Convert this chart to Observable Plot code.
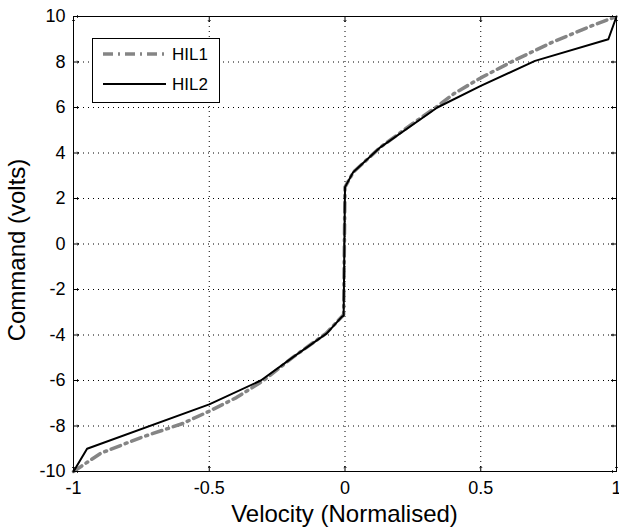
<!DOCTYPE html>
<html>
<head>
<meta charset="utf-8">
<script src="https://cdn.jsdelivr.net/npm/d3@7"></script>
<script src="https://cdn.jsdelivr.net/npm/@observablehq/plot@0.6"></script>
<style>
  html, body { margin: 0; padding: 0; background: #fff; overflow: hidden; }
  #chart svg { display: block; }
</style>
</head>
<body>
<div id="chart"></div>
<script>
// ---- data ----
const seriesNames = ["HIL1", "HIL2"];
const hil1X = [-1, -0.9, -0.75, -0.6, -0.5, -0.4, -0.3, -0.19, -0.07, -0.012, -0.005, 0, 0.03, 0.13, 0.25, 0.34, 0.4, 0.5, 0.62, 0.76, 0.9, 1];
const hil1Y = [-10, -9.2, -8.5, -7.9, -7.35, -6.75, -6.0, -4.96, -3.93, -3.2, -3.1, 2.5, 3.15, 4.25, 5.3, 6.05, 6.6, 7.3, 8.05, 8.85, 9.55, 10];
const hil2X = [-1, -0.95, -0.5, -0.31, -0.19, -0.067, -0.012, -0.005, 0, 0.03, 0.13, 0.34, 0.5, 0.7, 0.97, 1];
const hil2Y = [-10, -9, -7.05, -6, -4.96, -3.93, -3.2, -3.15, 2.5, 3.15, 4.25, 6.0, 6.95, 8.05, 9.0, 10];
const xTicks = [-1, -0.5, 0, 0.5, 1];
const yTicks = [-10, -8, -6, -4, -2, 0, 2, 4, 6, 8, 10];
const xLabel = "Velocity (Normalised)";
const yLabel = "Command (volts)";

const hil1 = hil1X.map((x, i) => ({x, y: hil1Y[i]}));
const hil2 = hil2X.map((x, i) => ({x, y: hil2Y[i]}));

const FONT = "'Liberation Sans', Arial, sans-serif";
const fmt = d => String(d);
const W = 619, H = 528, ML = 73, MR = 3, MT = 16, MB = 57;

const chart = Plot.plot({
  width: W,
  height: H,
  marginLeft: ML,
  marginRight: MR,
  marginTop: MT,
  marginBottom: MB,
  style: {fontFamily: FONT, fontSize: "18px", background: "#fff", color: "#000", overflow: "visible"},
  x: {domain: [-1, 1]},
  y: {domain: [-10, 10]},
  marks: [
    Plot.gridX(xTicks, {stroke: "#000", strokeOpacity: 1, strokeDasharray: "1,4"}),
    Plot.gridY(yTicks, {stroke: "#000", strokeOpacity: 1, strokeDasharray: "1,4"}),
    // inward ticks on all four sides
    Plot.vector(xTicks, {x: d => d, y: -10, length: 5, rotate: 0, anchor: "start", stroke: "#000", strokeWidth: 1}),
    Plot.vector(xTicks, {x: d => d, y: 10, length: 5, rotate: 180, anchor: "start", stroke: "#000", strokeWidth: 1}),
    Plot.vector(yTicks, {x: -1, y: d => d, length: 5, rotate: 90, anchor: "start", stroke: "#000", strokeWidth: 1}),
    Plot.vector(yTicks, {x: 1, y: d => d, length: 5, rotate: 270, anchor: "start", stroke: "#000", strokeWidth: 1}),
    Plot.axisX(xTicks, {tickSize: 0, tickPadding: 10, tickFormat: fmt, fontSize: 18, label: null}),
    Plot.axisY(yTicks, {tickSize: 0, tickPadding: 8, tickFormat: fmt, fontSize: 18, label: null}),
    Plot.line(hil1, {x: "x", y: "y", stroke: "#858585", strokeWidth: 3.5, strokeDasharray: "10,5,2,5", strokeLinejoin: "round"}),
    Plot.line(hil2, {x: "x", y: "y", stroke: "#000", strokeWidth: 2, strokeLinejoin: "round"}),
    Plot.frame({stroke: "#000", strokeWidth: 1})
  ]
});

const svg = d3.select(chart);

// axis titles
const plotCx = ML + (W - ML - MR) / 2;
svg.append("text").attr("x", plotCx).attr("y", 522)
  .attr("text-anchor", "middle").attr("font-family", FONT).attr("font-size", 24).attr("fill", "#000")
  .text(xLabel);
svg.append("text").attr("transform", "translate(25,250) rotate(-90)")
  .attr("text-anchor", "middle").attr("font-family", FONT).attr("font-size", 24).attr("fill", "#000")
  .text(yLabel);

// legend inside the plot area
const lg = svg.append("g").attr("class", "legend").attr("font-family", FONT).attr("font-size", 17);
lg.append("rect").attr("x", 92.5).attr("y", 38.5).attr("width", 127).attr("height", 64)
  .attr("fill", "#fff").attr("stroke", "#000").attr("stroke-width", 1);
const styles = [
  {stroke: "#858585", width: 3.5, dash: "10,5,2,5"},
  {stroke: "#000", width: 2, dash: null}
];
seriesNames.forEach((name, i) => {
  const yy = 54 + i * 30;
  lg.append("line").attr("x1", 103).attr("x2", 166).attr("y1", yy).attr("y2", yy)
    .attr("stroke", styles[i].stroke).attr("stroke-width", styles[i].width)
    .attr("stroke-dasharray", styles[i].dash);
  lg.append("text").attr("x", 172).attr("y", yy).attr("dy", "0.36em")
    .attr("text-anchor", "start").attr("fill", "#000").text(name);
});

document.getElementById("chart").appendChild(chart);
</script>
</body>
</html>
